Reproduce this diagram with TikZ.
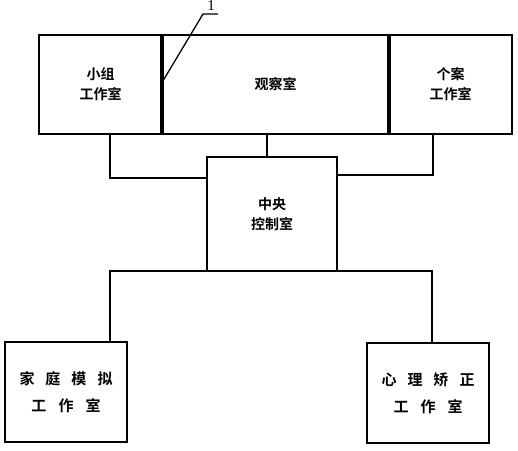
\documentclass[tikz,border=0pt]{standalone}
\usepackage{fontspec}
\newfontfamily\cjk{Noto Sans CJK SC}[BoldFont={Noto Sans CJK SC Bold}]
\setmainfont{Liberation Serif}
\begin{document}
\begin{tikzpicture}[x=1pt,y=1pt,
  box/.style={draw,line width=1.5pt,rectangle,inner sep=0pt,outer sep=0pt,align=center,font=\cjk\bfseries\fontsize{14}{20}\selectfont},
  bigbox/.style={box,font=\cjk\bfseries\fontsize{15}{27}\selectfont},
  conn/.style={line width=1.5pt},
  divider/.style={line width=3.2pt}]
\useasboundingbox (0,0) rectangle (518,450);
% top row
\node[box,minimum width=123pt,minimum height=99pt] (xz) at (100.5,365.5) {小组\\工作室};
\node[box,minimum width=227pt,minimum height=99pt] (gc) at (275.5,365.5) {观察室};
\node[box,minimum width=123pt,minimum height=99pt] (ga) at (450.5,365.5) {个案\\工作室};
\draw[divider] (xz.north east) -- (xz.south east);
\draw[divider] (ga.north west) -- (ga.south west);
% centre
\node[box,minimum width=130pt,minimum height=114pt] (zy) at (272,236) {中央\\控制室};
% bottom
\node[bigbox,minimum width=122pt,minimum height=100pt] (jt) at (66,58) {家\hspace{11pt}庭\hspace{11pt}模\hspace{11pt}拟\\工\hspace{12pt}作\hspace{12pt}室};
\node[bigbox,minimum width=122pt,minimum height=100pt] (xl) at (428,57) {心\hspace{11pt}理\hspace{11pt}矫\hspace{11pt}正\\工\hspace{12pt}作\hspace{12pt}室};
% connectors
\draw[conn] ([xshift=71pt]xz.south west) |- ([yshift=-21pt]zy.north west);
\draw[conn] ([xshift=-5pt]zy.north) -- ([xshift=-5pt]zy.north |- gc.south);
\draw[conn] ([xshift=-17.5pt]ga.south) |- ([yshift=-18pt]zy.north east);
\draw[conn] ([xshift=44pt]jt.north) |- (zy.south) -| ([xshift=4pt]xl.north);
% label 1
\coordinate (lp) at ([yshift=-45pt]xz.north east);
\coordinate (lk) at (203,436);
\coordinate (le) at (218,436);
\draw[line width=1.3pt] ([xshift=1.5pt]lp) -- (lk) -- (le);
\node[font=\fontsize{15}{15}\selectfont,inner sep=0pt] (one) at (211,444) {1};
\end{tikzpicture}
\end{document}
